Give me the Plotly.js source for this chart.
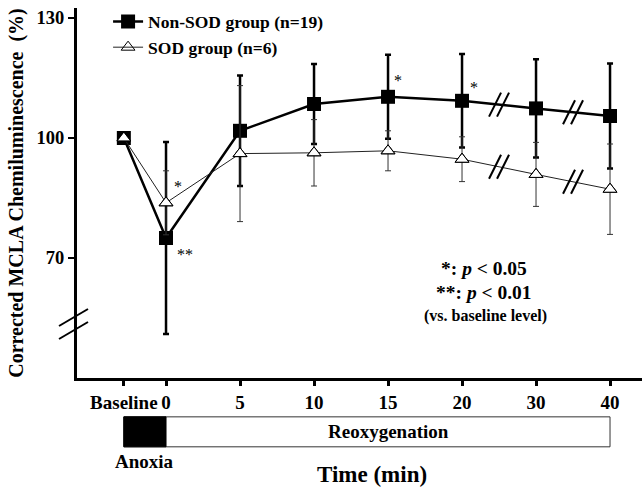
<!DOCTYPE html>
<html><head><meta charset="utf-8">
<script src="https://cdn.plot.ly/plotly-3.0.1.min.js"></script>
<style>html,body{margin:0;padding:0;background:#fff}#chart{width:642px;height:492px}</style>
</head><body><div id="chart"></div>
<script>
const categories = ['Baseline','0','5','10','15','20','30','40'];
const nonSodMean = [100, 75, 101.8, 108.5, 110.3, 109.3, 107.4, 105.5];
const nonSodSD   = [0, 24, 13.8, 10, 10.5, 11.7, 12.3, 13.1];
const sodMean    = [100, 83.8, 96.1, 96.3, 96.8, 94.7, 90.9, 87.2];
const sodSD      = [0, 8, 17, 8.3, 5, 5.6, 8, 11.3];
const yTicks = [70, 100, 130];
const Y_BREAK = 53.5;

// x positions: Baseline sits a little left of "0"; other time points evenly spaced
const xpos = categories.map((c,i)=> i===0 ? -0.57 : i-1);
const FONT = 'Liberation Serif, Times New Roman, serif';

const traces = [
  {x:xpos, y:nonSodMean, name:'<b>Non-SOD group (n=19)</b>', type:'scatter', mode:'lines+markers',
   line:{color:'#000', width:2.5}, marker:{symbol:'square', size:14, color:'#000'},
   error_y:{type:'data', array:nonSodSD, visible:true, color:'#000', thickness:2.5, width:3},
   legendrank:1},
  {x:xpos, y:sodMean, name:'<b>SOD group (n=6)</b>', type:'scatter', mode:'lines+markers',
   line:{color:'#222', width:1}, marker:{symbol:'triangle-up-open', size:12, color:'#000', line:{width:1}},
   error_y:{type:'data', array:sodSD, visible:true, color:'#333', thickness:1, width:3},
   legendrank:2}
];
// white fill under open triangles
traces.push({x:xpos, y:sodMean, type:'scatter', mode:'markers', showlegend:false, hoverinfo:'skip',
   marker:{symbol:'triangle-up', size:11, color:'#fff'}});
traces.push({x:xpos, y:sodMean, type:'scatter', mode:'markers', showlegend:false, hoverinfo:'skip',
   marker:{symbol:'triangle-up-open', size:12, color:'#000', line:{width:1}}});

const shapes = [];
function breakMark(xa, ya, xref, w){
  [[-10,-12,2,12],[-2,-12,10,12]].forEach(o=>{
    shapes.push({type:'line', xref:xref, yref:'y', xsizemode:'pixel', ysizemode:'pixel',
      xanchor:xa, yanchor:ya, x0:o[0], y0:o[1], x1:o[2], y1:o[3], line:{color:'#000', width:w}});
  });
}
[5,6].forEach(i=>{
  const xm = (xpos[i]+xpos[i+1])/2;
  breakMark(xm, (nonSodMean[i]+nonSodMean[i+1])/2, 'x', 2);
  breakMark(xm, (sodMean[i]+sodMean[i+1])/2, 'x', 2);
});
// y-axis break
[[-18,-2,11,15],[-18,-15,11,2]].forEach(o=>{
  shapes.push({type:'line', xref:'paper', yref:'y', xsizemode:'pixel', ysizemode:'pixel',
    xanchor:0, yanchor:Y_BREAK, x0:o[0], y0:o[1], x1:o[2], y1:o[3], line:{color:'#000', width:2}});
});
// time bar under axis
shapes.push({type:'rect', xref:'x', yref:'paper', x0:xpos[0], x1:xpos[xpos.length-1], y0:-0.186, y1:-0.105,
  fillcolor:'#fff', line:{color:'#333', width:1}});
shapes.push({type:'rect', xref:'x', yref:'paper', x0:xpos[0], x1:xpos[1], y0:-0.186, y1:-0.105,
  fillcolor:'#000', line:{color:'#000', width:1}});

const ast = {family:FONT, size:16, color:'#000'};
const C = {showarrow:false, xanchor:'center', yanchor:'middle'};
const annotations = [
  Object.assign({x:xpos[1], y:sodMean[1], text:'*', xshift:12, yshift:16, font:ast}, C),
  Object.assign({x:xpos[1], y:nonSodMean[1], text:'**', xshift:19, yshift:-16, font:ast}, C),
  Object.assign({x:xpos[4], y:nonSodMean[4], text:'*', xshift:10, yshift:16, font:ast}, C),
  Object.assign({x:xpos[5], y:nonSodMean[5], text:'*', xshift:12, yshift:13, font:ast}, C),
  Object.assign({xref:'paper', yref:'paper', x:0.7205, y:0.297, text:'<b>*: <i>p</i> < 0.05</b>', font:{family:FONT, size:19.5, color:'#000'}}, C),
  Object.assign({xref:'paper', yref:'paper', x:0.7205, y:0.232, text:'<b>**: <i>p</i> < 0.01</b>', font:{family:FONT, size:19.5, color:'#000'}}, C),
  Object.assign({xref:'paper', yref:'paper', x:0.7223, y:0.168, text:'<b>(vs. baseline level)</b>', font:{family:FONT, size:16, color:'#000'}}, C),
  Object.assign({x:(xpos[1]+xpos[xpos.length-1])/2, xref:'x', yref:'paper', y:-0.1455, text:'<b>Reoxygenation</b>', font:{family:FONT, size:19, color:'#000'}}, C),
  Object.assign({x:(xpos[0]+xpos[1])/2, xref:'x', yref:'paper', y:-0.226, text:'<b>Anoxia</b>', font:{family:FONT, size:19, color:'#000'}}, C),
  Object.assign({xref:'paper', yref:'paper', x:0.522, y:-0.262, text:'<b>Time (min)</b>', font:{family:FONT, size:23, color:'#000'}}, C)
];

const layout = {
  width:642, height:492, margin:{l:77, r:0, t:8, b:114},
  paper_bgcolor:'#fff', plot_bgcolor:'#fff',
  font:{family:FONT, color:'#000'},
  showlegend:true,
  legend:{x:0.055, y:1.012, xanchor:'left', yanchor:'top', bgcolor:'rgba(0,0,0,0)', font:{family:FONT, size:17.5, color:'#000'}, tracegroupgap:0},
  xaxis:{range:[-1.203, 6.432], showgrid:false, zeroline:false, showline:true, linewidth:3, linecolor:'#000',
    tickmode:'array', tickvals:xpos, ticktext:categories.map(c=>'<b>'+c+'</b>'), ticks:'outside', ticklen:5, tickwidth:3, tickcolor:'#000',
    tickfont:{family:FONT, size:19, color:'#000'}},
  yaxis:{range:[40, 132.5], showgrid:false, zeroline:false, showline:true, linewidth:3, linecolor:'#000',
    tickmode:'array', tickvals:yTicks, ticktext:yTicks.map(v=>'<b>'+v+'</b>'), ticks:'outside', ticklen:6, tickwidth:2, tickcolor:'#000',
    tickfont:{family:FONT, size:18.5, color:'#000'},
    title:{text:'<b>Corrected MCLA Chemiluminescence  (%)</b>', font:{family:FONT, size:20, color:'#000'}, standoff:8}},
  shapes:shapes, annotations:annotations
};
Plotly.newPlot('chart', traces, layout, {displayModeBar:false, staticPlot:true});
</script></body></html>
